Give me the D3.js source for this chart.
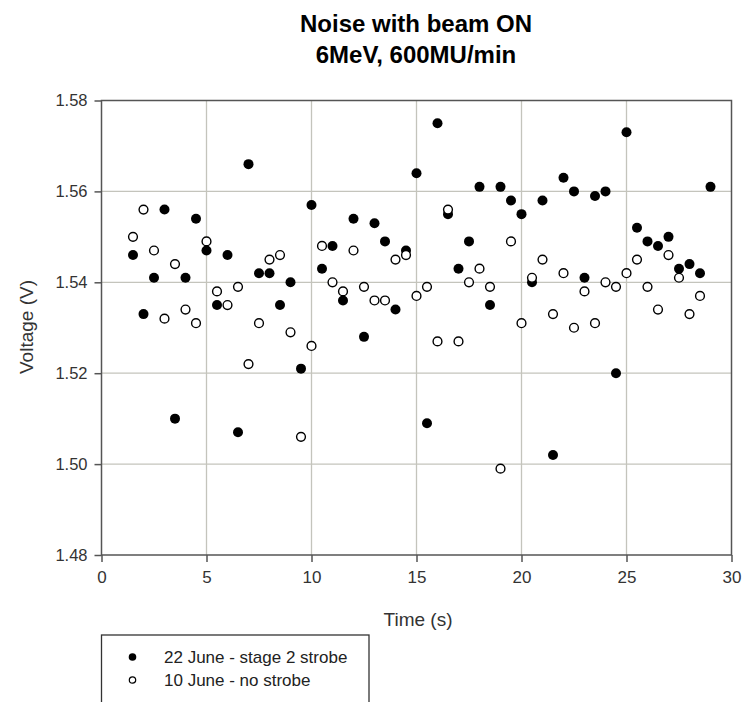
<!DOCTYPE html>
<html>
<head>
<meta charset="utf-8">
<script src="https://cdn.jsdelivr.net/npm/d3@7"></script>
<style>
  body { margin: 0; background: #fff; }
  svg { display: block; font-family: "Liberation Sans", Arial, sans-serif; }
</style>
</head>
<body>
<svg id="chart" width="745" height="702"></svg>
<script>
// THE DATA
// time (s) of each sample
const time22 = [1.5, 2, 2.5, 3, 3.5, 4, 4.5, 5, 5.5, 6, 6.5, 7, 7.5, 8, 8.5, 9, 9.5, 10,
  10.5, 11, 11.5, 12, 12.5, 13, 13.5, 14, 14.5, 15, 15.5, 16, 16.5, 17, 17.5, 18, 18.5, 19,
  19.5, 20, 20.5, 21, 21.5, 22, 22.5, 23, 23.5, 24, 24.5, 25, 25.5, 26, 26.5, 27, 27.5, 28, 28.5, 29];
// 22 June - stage 2 strobe
const volt22 = [1.546, 1.533, 1.541, 1.556, 1.510, 1.541, 1.554, 1.547, 1.535, 1.546, 1.507, 1.566,
  1.542, 1.542, 1.535, 1.540, 1.521, 1.557, 1.543, 1.548, 1.536, 1.554, 1.528, 1.553, 1.549, 1.534,
  1.547, 1.564, 1.509, 1.575, 1.555, 1.543, 1.549, 1.561, 1.535, 1.561, 1.558, 1.555, 1.540, 1.558,
  1.502, 1.563, 1.560, 1.541, 1.559, 1.560, 1.520, 1.573, 1.552, 1.549, 1.548, 1.550, 1.543, 1.544,
  1.542, 1.561];

const time10 = [1.5, 2, 2.5, 3, 3.5, 4, 4.5, 5, 5.5, 6, 6.5, 7, 7.5, 8, 8.5, 9, 9.5, 10,
  10.5, 11, 11.5, 12, 12.5, 13, 13.5, 14, 14.5, 15, 15.5, 16, 16.5, 17, 17.5, 18, 18.5, 19,
  19.5, 20, 20.5, 21, 21.5, 22, 22.5, 23, 23.5, 24, 24.5, 25, 25.5, 26, 26.5, 27, 27.5, 28, 28.5];
// 10 June - no strobe
const volt10 = [1.550, 1.556, 1.547, 1.532, 1.544, 1.534, 1.531, 1.549, 1.538, 1.535, 1.539, 1.522,
  1.531, 1.545, 1.546, 1.529, 1.506, 1.526, 1.548, 1.540, 1.538, 1.547, 1.539, 1.536, 1.536, 1.545,
  1.546, 1.537, 1.539, 1.527, 1.556, 1.527, 1.540, 1.543, 1.539, 1.499, 1.549, 1.531, 1.541, 1.545,
  1.533, 1.542, 1.530, 1.538, 1.531, 1.540, 1.539, 1.542, 1.545, 1.539, 1.534, 1.546, 1.541, 1.533,
  1.537];

const xTicks = [0, 5, 10, 15, 20, 25, 30];
const yTicks = [1.48, 1.50, 1.52, 1.54, 1.56, 1.58];
const seriesNames = ["22 June - stage 2 strobe", "10 June - no strobe"];

// SETTING UP
const svg = d3.select("#chart");
const x = d3.scaleLinear().domain([0, 30]).range([101.5, 731.5]);
const y = d3.scaleLinear().domain([1.48, 1.58]).range([555, 100.5]);

// title
svg.append("text")
  .attr("x", 416).attr("y", 32)
  .attr("text-anchor", "middle")
  .style("font-weight", "bold").style("font-size", "24px")
  .text("Noise with beam ON");
svg.append("text")
  .attr("x", 416).attr("y", 63)
  .attr("text-anchor", "middle")
  .style("font-weight", "bold").style("font-size", "24px")
  .text("6MeV, 600MU/min");

// gridlines
svg.append("g")
  .selectAll("line.vg")
  .data(xTicks.slice(1, -1))
  .join("line")
  .attr("x1", d => x(d)).attr("x2", d => x(d))
  .attr("y1", y(1.58)).attr("y2", y(1.48))
  .attr("stroke", "#c4c4bc").attr("stroke-width", 1.3);
svg.append("g")
  .selectAll("line.hg")
  .data(yTicks.slice(1, -1))
  .join("line")
  .attr("x1", x(0)).attr("x2", x(30))
  .attr("y1", d => y(d)).attr("y2", d => y(d))
  .attr("stroke", "#c4c4bc").attr("stroke-width", 1.3);

// frame
svg.append("rect")
  .attr("x", x(0)).attr("y", y(1.58))
  .attr("width", x(30) - x(0)).attr("height", y(1.48) - y(1.58))
  .attr("fill", "none").attr("stroke", "#555").attr("stroke-width", 1.5);

// axes
const xAxis = svg.append("g")
  .attr("transform", `translate(0,${y(1.48)})`)
  .call(d3.axisBottom(x).tickValues(xTicks).tickSize(7).tickPadding(9).tickFormat(d3.format("d")));
const yAxis = svg.append("g")
  .attr("transform", `translate(${x(0)},0)`)
  .call(d3.axisLeft(y).tickValues(yTicks).tickSize(7).tickPadding(7).tickFormat(d3.format(".2f")));
[xAxis, yAxis].forEach(a => {
  a.select(".domain").remove();
  a.selectAll("line").attr("stroke", "#555").attr("stroke-width", 1.5);
  a.selectAll("text").attr("fill", "#333").style("font-family", "'Liberation Sans', Arial, sans-serif");
});
xAxis.selectAll("text").style("font-size", "17px");
yAxis.selectAll("text").style("font-size", "16.5px");

// axis titles
svg.append("text")
  .attr("x", 418).attr("y", 626)
  .attr("text-anchor", "middle")
  .attr("fill", "#333")
  .style("font-size", "19px")
  .text("Time (s)");
svg.append("text")
  .attr("transform", "translate(33,327) rotate(-90)")
  .attr("text-anchor", "middle")
  .attr("fill", "#333")
  .style("font-size", "19px")
  .text("Voltage (V)");

// points
svg.append("g")
  .selectAll("circle")
  .data(d3.zip(time22, volt22))
  .join("circle")
  .attr("cx", d => x(d[0])).attr("cy", d => y(d[1]))
  .attr("r", 5)
  .attr("fill", "#000");
svg.append("g")
  .selectAll("circle")
  .data(d3.zip(time10, volt10))
  .join("circle")
  .attr("cx", d => x(d[0])).attr("cy", d => y(d[1]))
  .attr("r", 4.4)
  .attr("fill", "#fff").attr("stroke", "#000").attr("stroke-width", 1.4);

// legend
const legend = svg.append("g");
legend.append("rect")
  .attr("x", 101.5).attr("y", 635)
  .attr("width", 267.5).attr("height", 80)
  .attr("fill", "#fff").attr("stroke", "#333").attr("stroke-width", 1.3);
const item = legend.selectAll("g")
  .data(seriesNames)
  .join("g")
  .attr("transform", (d, i) => `translate(0,${657 + i * 23})`);
item.append("circle")
  .attr("cx", 132.5).attr("cy", 0)
  .attr("r", (d, i) => i === 0 ? 3.8 : 3.2)
  .attr("fill", (d, i) => i === 0 ? "#000" : "#fff")
  .attr("stroke", "#000").attr("stroke-width", (d, i) => i === 0 ? 0 : 1.2);
item.append("text")
  .attr("x", 164).attr("y", 6)
  .attr("fill", "#222")
  .style("font-size", "17px")
  .text(d => d);
</script>
</body>
</html>
